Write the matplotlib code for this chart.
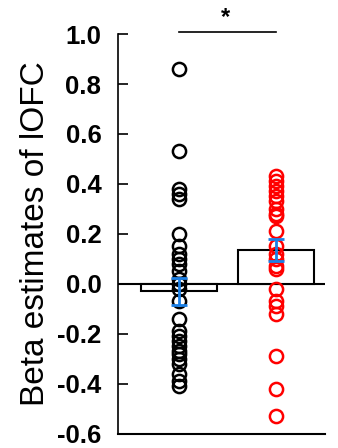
import numpy as np
import matplotlib.pyplot as plt

plt.rcParams['font.family'] = ['Liberation Sans', 'DejaVu Sans']

# values
groups = ['control', 'patients']
group_x = [0, 1]
bar_means = [-0.03, 0.136]
bar_sem = [0.054, 0.044]
black_pts = [0.86, 0.53, 0.38, 0.36, 0.34, 0.20, 0.15, 0.12, 0.10, 0.08, 0.05,
             0.02, 0.00, -0.02, -0.07, -0.14, -0.19, -0.21, -0.23, -0.25, -0.27,
             -0.28, -0.30, -0.32, -0.36, -0.39, -0.41]
red_pts = [0.43, 0.41, 0.39, 0.37, 0.35, 0.33, 0.30, 0.28, 0.27, 0.21, 0.15,
           0.12, 0.10, 0.07, 0.06, -0.02, -0.07, -0.09, -0.12, -0.29, -0.42, -0.53]
yticks = [-0.6, -0.4, -0.2, 0.0, 0.2, 0.4, 0.6, 0.8, 1.0]

fig = plt.figure(figsize=(3.38, 4.48), dpi=100)
ax = fig.add_axes([0.349, 0.032, 0.613, 0.892])

ax.bar(group_x, bar_means, width=0.78, color='white', edgecolor='black',
       linewidth=1.5, zorder=2)
ax.axhline(0, color='black', linewidth=1.5, zorder=1)

ax.plot([group_x[0]] * len(black_pts), black_pts, 'o', ms=9.5, mfc='none',
        mec='black', mew=1.8, zorder=3)
ax.plot([group_x[1]] * len(red_pts), red_pts, 'o', ms=9.5, mfc='none',
        mec='red', mew=1.8, zorder=3)

ax.errorbar(group_x, bar_means, yerr=bar_sem, fmt='none', ecolor='#1a7fe6',
            elinewidth=2, capsize=6, capthick=2, zorder=4)

# significance bracket
ax.plot([group_x[0], group_x[1]], [1.01, 1.01], color='black', lw=1.2,
        clip_on=False)
ax.text(0.48, 1.02, '*', ha='center', va='bottom', fontsize=17,
        fontweight='bold', clip_on=False)

ax.set_xlim(-0.629, 1.505)
ax.set_ylim(-0.6, 1.0)
ax.set_yticks(yticks)
ax.set_yticklabels([f'{t:.1f}' for t in yticks], fontsize=18.5, fontweight='bold')
ax.tick_params(axis='y', direction='in', length=7, width=1.2, pad=12)
ax.set_xticks([])
ax.spines['top'].set_visible(False)
ax.spines['right'].set_visible(False)
ax.spines['left'].set_linewidth(1.2)
ax.spines['bottom'].set_linewidth(1.5)
ax.set_ylabel('Beta estimates of lOFC', fontsize=24, labelpad=4)

fig.savefig('out.png', dpi=100)
